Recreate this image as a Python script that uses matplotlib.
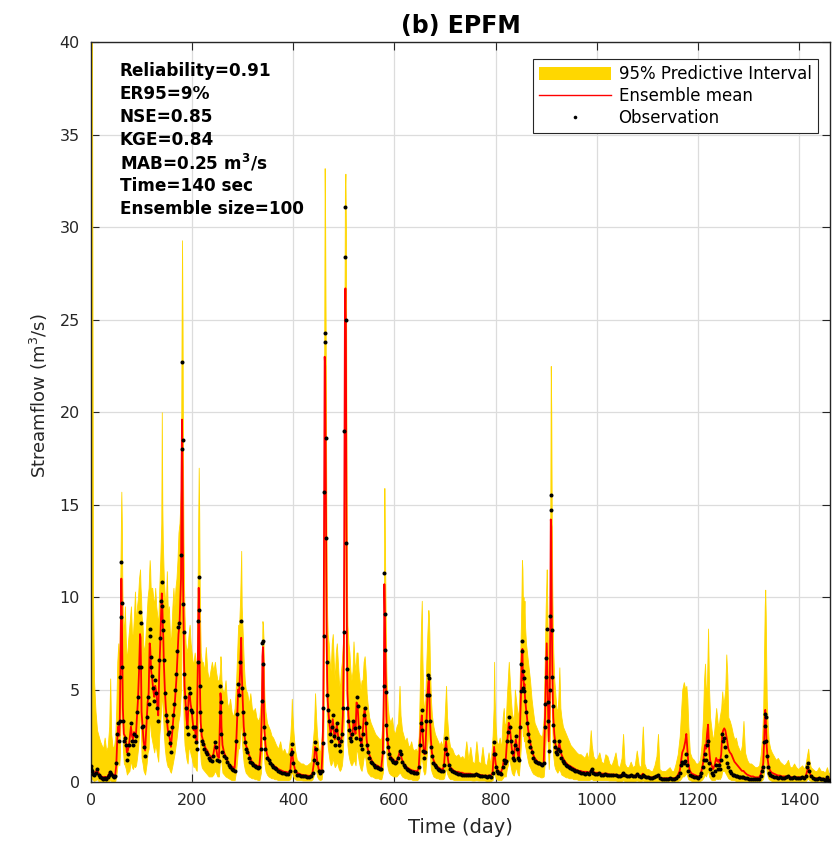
import matplotlib.pyplot as plt
from matplotlib.patches import Patch
from matplotlib.lines import Line2D

# daily streamflow series (m3/s), sampled on the days listed in `day`
day = [
    0, 1, 2, 4, 6, 9, 12, 15, 18, 21,
    24, 27, 30, 33, 36, 38, 40, 43, 46, 48,
    50, 52, 54, 56, 57, 58, 59, 60, 61, 62,
    63, 65, 67, 69, 71, 73, 76, 79, 81, 83,
    85, 87, 89, 91, 93, 95, 97, 98, 99, 100,
    102, 104, 107, 110, 112, 114, 116, 117, 118, 119,
    121, 123, 125, 127, 129, 131, 133, 135, 137, 139,
    140, 141, 142, 143, 144, 146, 148, 150, 152, 154,
    156, 158, 161, 163, 165, 167, 169, 171, 173, 175,
    178, 179, 180, 181, 182, 183, 184, 185, 187, 189,
    191, 193, 195, 197, 199, 201, 203, 205, 207, 209,
    211, 212, 213, 214, 215, 216, 217, 219, 221, 224,
    227, 230, 233, 236, 239, 242, 245, 247, 250, 253,
    255, 256, 257, 258, 260, 263, 266, 269, 272, 275,
    278, 281, 284, 287, 289, 291, 293, 295, 297, 298,
    300, 302, 304, 306, 309, 312, 315, 318, 321, 324,
    327, 330, 333, 336, 338, 339, 340, 341, 342, 343,
    345, 348, 351, 354, 357, 360, 363, 366, 370, 374,
    378, 382, 386, 390, 394, 396, 397, 398, 400, 403,
    407, 411, 415, 419, 423, 427, 431, 435, 438, 441,
    443, 445, 447, 450, 453, 456, 458, 459, 460, 461,
    462, 463, 464, 465, 466, 467, 468, 470, 472, 474,
    476, 478, 480, 482, 484, 486, 488, 490, 492, 494,
    496, 498, 500, 501, 502, 503, 504, 505, 506, 507,
    509, 511, 513, 515, 517, 519, 521, 523, 525, 527,
    529, 531, 533, 535, 537, 539, 541, 543, 545, 547,
    550, 553, 556, 559, 562, 565, 568, 571, 574, 577,
    579, 580, 581, 582, 583, 584, 585, 587, 589, 592,
    595, 598, 601, 604, 607, 610, 612, 615, 618, 621,
    624, 627, 630, 633, 636, 639, 642, 645, 648, 650,
    652, 654, 655, 657, 659, 661, 663, 665, 667, 668,
    669, 670, 672, 674, 677, 680, 683, 686, 689, 692,
    695, 698, 700, 702, 704, 707, 710, 714, 718, 722,
    726, 730, 734, 738, 742, 746, 750, 754, 758, 762,
    766, 770, 774, 778, 782, 786, 790, 794, 796, 797,
    798, 800, 802, 805, 808, 811, 814, 816, 818, 820,
    822, 824, 826, 828, 830, 832, 834, 836, 838, 840,
    842, 844, 846, 848, 850, 851, 852, 853, 854, 855,
    856, 857, 858, 860, 862, 864, 866, 868, 871, 874,
    877, 880, 883, 886, 889, 892, 895, 897, 898, 899,
    900, 901, 903, 904, 905, 907, 908, 909, 910, 911,
    912, 913, 914, 916, 918, 920, 922, 924, 926, 928,
    930, 933, 936, 939, 942, 945, 948, 951, 954, 957,
    960, 964, 968, 972, 976, 980, 984, 988, 990, 993,
    997, 1001, 1005, 1009, 1013, 1017, 1021, 1025, 1029, 1033,
    1037, 1041, 1045, 1049, 1052, 1055, 1059, 1063, 1067, 1071,
    1075, 1079, 1083, 1087, 1091, 1094, 1098, 1102, 1106, 1110,
    1114, 1118, 1121, 1124, 1128, 1132, 1136, 1140, 1144, 1148,
    1152, 1156, 1160, 1164, 1167, 1169, 1172, 1175, 1177, 1179,
    1181, 1184, 1188, 1192, 1196, 1200, 1204, 1207, 1210, 1212,
    1214, 1216, 1218, 1220, 1222, 1224, 1227, 1230, 1233, 1236,
    1239, 1241, 1243, 1246, 1248, 1250, 1252, 1254, 1256, 1258,
    1260, 1263, 1266, 1269, 1272, 1275, 1278, 1281, 1284, 1287,
    1290, 1293, 1297, 1301, 1305, 1309, 1313, 1317, 1321, 1324,
    1327, 1329, 1331, 1332, 1333, 1334, 1335, 1336, 1338, 1340,
    1343, 1346, 1350, 1354, 1358, 1362, 1366, 1370, 1374, 1378,
    1382, 1386, 1390, 1394, 1398, 1402, 1406, 1410, 1413, 1416,
    1418, 1420, 1423, 1427, 1431, 1435, 1439, 1443, 1447, 1451,
    1455, 1458, 1461,
]

obs = [
    0.85, 0.7, 0.6, 0.45, 0.35, 0.5, 0.7, 0.4, 0.25, 0.2,
    0.15, 0.2, 0.15, 0.25, 0.4, 0.55, 0.45, 0.3, 0.25, 0.3,
    1.0, 2.6, 3.2, 2.2, 3.3, 5.7, 8.9, 11.9, 9.7, 6.2,
    3.3, 2.2, 2.4, 2.0, 1.2, 1.5, 2.0, 3.2, 2.2, 2.0,
    2.6, 2.2, 2.5, 3.8, 4.6, 6.2, 9.2, 8.6, 6.2, 3.0,
    3.05, 1.9, 1.4, 3.5, 4.6, 4.2, 8.3, 7.9, 6.75, 6.2,
    5.75, 5.1, 4.4, 5.5, 4.8, 4.0, 3.3, 6.6, 7.8, 9.8,
    10.8, 9.5, 8.7, 8.2, 6.6, 4.8, 3.6, 3.3, 2.6, 2.7,
    2.1, 1.6, 3.0, 3.6, 4.2, 5.0, 5.85, 7.1, 8.4, 8.6,
    12.3, 18.0, 22.7, 18.5, 9.6, 8.1, 5.85, 4.6, 4.0, 3.0,
    2.6, 5.1, 4.8, 3.9, 3.8, 3.0, 2.5, 3.0, 2.15, 1.8,
    6.5, 8.7, 11.1, 9.3, 5.2, 3.8, 2.8, 2.2, 2.05, 1.8,
    1.6, 1.5, 1.3, 1.2, 1.15, 1.4, 2.15, 1.9, 1.2, 1.15,
    3.8, 5.2, 4.3, 2.6, 1.6, 1.4, 1.3, 1.1, 0.9, 0.8,
    0.7, 0.65, 0.6, 2.2, 3.7, 5.3, 4.7, 6.5, 8.7, 5.1,
    3.8, 2.6, 2.15, 1.8, 1.6, 1.3, 1.1, 1.0, 0.9, 0.85,
    0.8, 0.75, 0.8, 1.8, 4.4, 7.5, 7.65, 6.4, 3.0, 2.4,
    1.8, 1.3, 1.2, 1.0, 0.9, 0.8, 0.75, 0.7, 0.6, 0.55,
    0.5, 0.5, 0.45, 0.45, 0.6, 1.5, 2.05, 1.6, 1.0, 0.6,
    0.4, 0.35, 0.3, 0.3, 0.3, 0.28, 0.28, 0.3, 0.5, 1.2,
    2.15, 1.8, 1.0, 0.6, 0.5, 0.6, 2.1, 4.0, 7.9, 15.7,
    24.3, 23.8, 18.6, 13.2, 6.5, 4.7, 3.9, 3.3, 2.6, 2.2,
    3.0, 3.6, 2.5, 2.0, 2.8, 3.2, 2.4, 2.0, 1.7, 2.2,
    2.6, 4.0, 8.1, 19.0, 28.4, 31.1, 25.0, 12.9, 6.1, 4.0,
    3.3, 2.8, 2.4, 2.2, 2.6, 3.3, 2.9, 2.4, 4.6, 4.1,
    3.0, 2.3, 2.0, 1.8, 2.6, 3.6, 4.0, 3.2, 2.0, 1.6,
    1.3, 1.1, 1.0, 0.9, 0.8, 0.8, 0.75, 0.7, 0.7, 1.6,
    5.2, 11.3, 9.1, 7.15, 4.85, 3.1, 2.3, 1.9, 1.5, 1.3,
    1.2, 1.1, 1.0, 1.1, 1.3, 1.7, 1.5, 1.1, 0.9, 0.8,
    0.7, 0.65, 0.6, 0.55, 0.55, 0.5, 0.5, 0.5, 0.8, 2.0,
    3.2, 3.9, 2.8, 1.7, 1.3, 1.6, 3.3, 4.7, 5.8, 5.6,
    4.7, 3.3, 1.9, 1.4, 1.0, 0.9, 0.8, 0.7, 0.65, 0.6,
    0.6, 0.9, 1.8, 2.4, 1.5, 0.9, 0.7, 0.6, 0.55, 0.5,
    0.45, 0.45, 0.4, 0.4, 0.4, 0.35, 0.4, 0.35, 0.35, 0.45,
    0.35, 0.3, 0.3, 0.3, 0.28, 0.3, 0.28, 0.5, 1.5, 2.15,
    1.5, 0.8, 0.6, 0.5, 0.5, 0.45, 0.8, 1.2, 1.0, 1.15,
    2.2, 2.7, 3.5, 3.0, 2.2, 1.6, 1.3, 1.2, 2.0, 2.5,
    1.8, 1.3, 1.2, 3.0, 4.9, 6.4, 7.65, 7.1, 5.1, 6.0,
    4.9, 5.6, 4.4, 3.8, 3.2, 2.6, 2.2, 1.9, 1.6, 1.3,
    1.15, 1.1, 1.0, 1.0, 0.95, 0.9, 1.0, 3.0, 4.2, 5.7,
    6.7, 8.3, 4.3, 3.3, 1.7, 5.0, 9.0, 15.5, 14.7, 8.2,
    5.7, 4.1, 3.1, 2.2, 1.9, 1.6, 1.5, 1.8, 2.2, 1.7,
    1.3, 1.15, 1.0, 0.9, 0.85, 0.8, 0.75, 0.7, 0.65, 0.6,
    0.6, 0.55, 0.5, 0.5, 0.45, 0.5, 0.45, 0.6, 0.7, 0.5,
    0.45, 0.45, 0.5, 0.4, 0.4, 0.45, 0.4, 0.35, 0.35, 0.4,
    0.35, 0.3, 0.3, 0.35, 0.5, 0.35, 0.3, 0.3, 0.35, 0.3,
    0.3, 0.45, 0.3, 0.28, 0.4, 0.3, 0.25, 0.25, 0.2, 0.2,
    0.25, 0.3, 0.35, 0.2, 0.15, 0.15, 0.15, 0.15, 0.2, 0.15,
    0.15, 0.2, 0.3, 0.5, 0.9, 1.1, 1.0, 1.15, 1.5, 0.9,
    0.6, 0.4, 0.3, 0.25, 0.25, 0.2, 0.3, 0.5, 0.8, 1.2,
    1.5, 1.2, 2.0, 2.2, 1.0, 0.7, 0.5, 0.4, 0.6, 0.9,
    0.7, 0.9, 0.7, 1.2, 2.6, 2.2, 2.4, 1.9, 1.4, 1.0,
    0.8, 0.6, 0.5, 0.4, 0.35, 0.3, 0.3, 0.28, 0.25, 0.25,
    0.25, 0.2, 0.2, 0.18, 0.15, 0.15, 0.15, 0.15, 0.15, 0.3,
    0.6, 0.8, 2.15, 3.05, 3.7, 3.5, 2.2, 1.4, 0.8, 0.5,
    0.35, 0.3, 0.25, 0.25, 0.2, 0.25, 0.2, 0.2, 0.25, 0.3,
    0.2, 0.2, 0.25, 0.2, 0.2, 0.2, 0.25, 0.2, 0.3, 0.8,
    1.05, 0.6, 0.3, 0.2, 0.15, 0.15, 0.2, 0.15, 0.15, 0.12,
    0.25, 0.12, 0.1,
]

ens_mean = [
    0.7, 0.75, 0.7, 0.55, 0.45, 0.55, 0.65, 0.5, 0.35, 0.3,
    0.25, 0.28, 0.25, 0.3, 0.45, 0.55, 0.5, 0.4, 0.35, 0.4,
    0.9, 2.3, 3.0, 2.5, 3.5, 5.5, 8.5, 11.0, 9.3, 6.8,
    4.0, 2.6, 2.5, 2.2, 1.6, 1.7, 2.2, 3.0, 2.5, 2.3,
    2.7, 2.5, 2.6, 3.6, 4.5, 6.0, 8.0, 7.8, 6.0, 3.8,
    3.0, 2.2, 1.7, 3.2, 4.3, 4.8, 7.5, 7.3, 6.6, 6.0,
    5.6, 5.0, 4.6, 5.2, 4.9, 4.2, 3.6, 6.0, 7.5, 9.5,
    10.2, 9.6, 8.5, 7.8, 6.5, 5.0, 4.0, 3.4, 2.8, 2.6,
    2.3, 1.9, 2.8, 3.5, 4.0, 4.8, 5.6, 6.8, 8.0, 8.5,
    11.0, 16.5, 19.6, 17.0, 11.0, 8.5, 6.5, 5.2, 4.3, 3.4,
    2.9, 4.6, 4.8, 4.2, 3.9, 3.3, 2.8, 3.0, 2.5, 2.2,
    6.0, 8.5, 10.5, 9.2, 6.0, 4.3, 3.2, 2.5, 2.3, 2.0,
    1.8, 1.7, 1.5, 1.4, 1.3, 1.5, 2.0, 1.9, 1.4, 1.3,
    3.4, 4.8, 4.5, 3.0, 2.0, 1.6, 1.4, 1.2, 1.0, 0.9,
    0.85, 0.8, 0.75, 2.0, 3.4, 5.0, 4.8, 6.2, 7.8, 6.0,
    4.4, 3.0, 2.4, 2.0, 1.8, 1.5, 1.3, 1.1, 1.0, 0.95,
    0.9, 0.85, 0.9, 1.9, 4.0, 6.8, 7.3, 6.5, 3.8, 2.8,
    2.0, 1.5, 1.3, 1.1, 1.0, 0.9, 0.85, 0.8, 0.7, 0.65,
    0.6, 0.55, 0.55, 0.5, 0.6, 1.4, 1.8, 1.6, 1.1, 0.7,
    0.5, 0.45, 0.4, 0.38, 0.35, 0.35, 0.33, 0.35, 0.5, 1.1,
    1.9, 1.8, 1.2, 0.7, 0.6, 0.65, 1.9, 3.5, 7.5, 14.5,
    23.0, 22.5, 18.0, 12.5, 7.5, 5.5, 4.4, 3.6, 3.0, 2.6,
    2.9, 3.4, 2.8, 2.3, 2.7, 3.1, 2.6, 2.2, 1.9, 2.2,
    2.5, 3.6, 7.5, 17.0, 25.0, 26.7, 24.5, 14.0, 7.5, 4.8,
    3.6, 3.0, 2.6, 2.4, 2.6, 3.2, 3.0, 2.6, 4.3, 4.2,
    3.2, 2.5, 2.2, 2.0, 2.6, 3.4, 4.0, 3.4, 2.3, 1.8,
    1.5, 1.3, 1.1, 1.0, 0.9, 0.9, 0.85, 0.8, 0.8, 1.6,
    5.0, 10.7, 9.0, 7.2, 5.2, 3.6, 2.7, 2.1, 1.7, 1.4,
    1.3, 1.2, 1.1, 1.15, 1.3, 1.6, 1.5, 1.2, 1.0, 0.9,
    0.8, 0.75, 0.7, 0.65, 0.62, 0.6, 0.6, 0.55, 0.8, 1.8,
    3.0, 3.6, 3.0, 2.0, 1.5, 1.6, 3.0, 4.5, 5.4, 5.5,
    4.8, 3.6, 2.3, 1.6, 1.2, 1.0, 0.9, 0.8, 0.75, 0.7,
    0.65, 0.9, 1.7, 2.2, 1.6, 1.0, 0.8, 0.7, 0.6, 0.55,
    0.55, 0.5, 0.5, 0.45, 0.45, 0.45, 0.45, 0.4, 0.4, 0.45,
    0.4, 0.38, 0.35, 0.35, 0.33, 0.35, 0.32, 0.5, 1.4, 1.9,
    1.6, 1.0, 0.75, 0.6, 0.55, 0.55, 0.8, 1.2, 1.1, 1.2,
    2.0, 2.5, 3.2, 3.0, 2.4, 1.8, 1.5, 1.3, 1.9, 2.3,
    1.9, 1.5, 1.3, 2.8, 4.6, 6.0, 7.0, 7.2, 5.5, 5.8,
    5.0, 5.3, 4.6, 4.0, 3.5, 2.9, 2.5, 2.2, 1.8, 1.5,
    1.3, 1.2, 1.1, 1.05, 1.0, 0.95, 1.0, 2.7, 3.9, 5.2,
    6.4, 7.5, 4.8, 3.6, 2.2, 4.6, 8.5, 14.2, 13.8, 9.0,
    6.3, 4.6, 3.5, 2.6, 2.1, 1.8, 1.6, 1.8, 2.1, 1.8,
    1.5, 1.3, 1.15, 1.05, 0.95, 0.9, 0.85, 0.8, 0.75, 0.7,
    0.65, 0.6, 0.6, 0.55, 0.55, 0.55, 0.5, 0.6, 0.7, 0.55,
    0.5, 0.5, 0.5, 0.45, 0.45, 0.45, 0.45, 0.4, 0.4, 0.4,
    0.4, 0.35, 0.35, 0.38, 0.5, 0.4, 0.35, 0.33, 0.35, 0.32,
    0.32, 0.42, 0.32, 0.3, 0.45, 0.35, 0.28, 0.28, 0.25, 0.25,
    0.28, 0.32, 0.35, 0.25, 0.2, 0.2, 0.2, 0.2, 0.22, 0.2,
    0.2, 0.22, 0.35, 0.6, 1.2, 1.6, 1.8, 2.2, 2.6, 1.8,
    1.0, 0.6, 0.45, 0.4, 0.35, 0.3, 0.35, 0.6, 1.0, 1.5,
    2.0, 1.8, 2.6, 3.1, 1.8, 1.2, 0.9, 0.7, 0.9, 1.3,
    1.1, 1.2, 1.0, 1.5, 2.6, 2.8, 2.9, 2.8, 2.5, 2.2,
    1.8, 1.6, 1.5, 1.3, 1.1, 1.0, 0.9, 0.8, 0.7, 0.6,
    0.6, 0.5, 0.4, 0.35, 0.3, 0.3, 0.25, 0.25, 0.25, 0.4,
    0.7, 1.0, 2.3, 3.3, 3.9, 3.6, 2.6, 1.9, 1.2, 0.8,
    0.6, 0.5, 0.45, 0.4, 0.35, 0.35, 0.3, 0.3, 0.3, 0.32,
    0.28, 0.25, 0.28, 0.25, 0.25, 0.25, 0.25, 0.22, 0.3, 0.6,
    0.8, 0.55, 0.35, 0.25, 0.2, 0.2, 0.2, 0.18, 0.18, 0.15,
    0.2, 0.15, 0.15,
]

lower = [
    0.2, 0.2, 0.15, 0.1, 0.05, 0.1, 0.15, 0.05, 0, 0,
    0, 0, 0, 0, 0.05, 0.1, 0.05, 0, 0, 0.05,
    0.3, 0.8, 1.2, 0.9, 1.4, 2.5, 4.0, 6.0, 4.8, 3.2,
    1.8, 1.0, 0.9, 0.7, 0.4, 0.5, 0.6, 1.2, 0.8, 0.7,
    0.9, 0.8, 0.9, 1.3, 1.8, 2.6, 3.8, 3.5, 2.5, 1.3,
    1.0, 0.6, 0.4, 1.0, 1.6, 1.8, 3.5, 3.3, 2.8, 2.5,
    2.2, 1.9, 1.6, 2.0, 1.8, 1.4, 1.1, 2.5, 3.2, 4.2,
    4.8, 4.4, 3.8, 3.3, 2.6, 1.8, 1.3, 1.0, 0.8, 0.8,
    0.6, 0.5, 0.9, 1.2, 1.5, 1.9, 2.3, 2.8, 3.3, 3.6,
    5.0, 8.0, 10.0, 8.5, 5.0, 3.6, 2.6, 2.0, 1.6, 1.2,
    1.0, 1.8, 1.8, 1.5, 1.3, 1.0, 0.8, 0.9, 0.7, 0.6,
    2.5, 3.8, 5.0, 4.2, 2.4, 1.6, 1.1, 0.8, 0.7, 0.6,
    0.5, 0.4, 0.3, 0.3, 0.3, 0.4, 0.6, 0.5, 0.3, 0.3,
    1.2, 1.9, 1.7, 1.0, 0.5, 0.4, 0.3, 0.25, 0.2, 0.15,
    0.1, 0.1, 0.1, 0.6, 1.2, 1.9, 1.8, 2.6, 3.5, 2.3,
    1.6, 1.0, 0.7, 0.5, 0.4, 0.3, 0.25, 0.2, 0.2, 0.15,
    0.15, 0.1, 0.1, 0.5, 1.6, 3.2, 3.5, 3.0, 1.5, 1.0,
    0.6, 0.4, 0.3, 0.25, 0.2, 0.2, 0.15, 0.15, 0.1, 0.1,
    0.1, 0.1, 0.1, 0.1, 0.15, 0.4, 0.6, 0.5, 0.3, 0.15,
    0.1, 0.1, 0.1, 0.08, 0.08, 0.08, 0.08, 0.08, 0.15, 0.4,
    0.7, 0.6, 0.3, 0.15, 0.1, 0.15, 0.7, 1.5, 3.5, 8.0,
    14.0, 13.5, 10.0, 6.5, 3.5, 2.5, 1.9, 1.5, 1.1, 0.9,
    1.0, 1.3, 1.0, 0.8, 0.9, 1.1, 0.9, 0.7, 0.6, 0.7,
    0.9, 1.5, 3.5, 9.0, 14.0, 16.0, 13.0, 7.0, 3.5, 2.0,
    1.5, 1.2, 1.0, 0.9, 1.0, 1.2, 1.1, 0.9, 1.8, 1.6,
    1.2, 0.9, 0.7, 0.6, 0.9, 1.3, 1.5, 1.2, 0.7, 0.5,
    0.4, 0.3, 0.3, 0.25, 0.2, 0.2, 0.2, 0.15, 0.15, 0.5,
    2.2, 6.0, 4.8, 3.6, 2.4, 1.5, 1.0, 0.7, 0.5, 0.4,
    0.35, 0.3, 0.3, 0.3, 0.4, 0.5, 0.45, 0.3, 0.25, 0.2,
    0.2, 0.15, 0.15, 0.15, 0.1, 0.1, 0.1, 0.1, 0.2, 0.6,
    1.2, 1.5, 1.1, 0.6, 0.4, 0.5, 1.2, 1.9, 2.6, 2.5,
    2.1, 1.4, 0.7, 0.5, 0.3, 0.25, 0.2, 0.2, 0.15, 0.15,
    0.15, 0.2, 0.5, 0.8, 0.45, 0.25, 0.15, 0.15, 0.1, 0.1,
    0.1, 0.1, 0.1, 0.1, 0.1, 0.1, 0.1, 0.08, 0.08, 0.1,
    0.08, 0.08, 0.08, 0.08, 0.05, 0.05, 0.05, 0.1, 0.4, 0.7,
    0.5, 0.2, 0.15, 0.1, 0.1, 0.1, 0.2, 0.3, 0.3, 0.3,
    0.7, 0.9, 1.3, 1.1, 0.8, 0.5, 0.4, 0.35, 0.6, 0.8,
    0.6, 0.4, 0.35, 1.1, 2.0, 2.8, 3.5, 3.4, 2.5, 2.6,
    2.2, 2.4, 2.0, 1.7, 1.4, 1.1, 0.9, 0.8, 0.6, 0.45,
    0.4, 0.35, 0.3, 0.3, 0.25, 0.25, 0.3, 1.0, 1.6, 2.3,
    2.9, 3.6, 2.0, 1.4, 0.7, 2.0, 4.5, 8.5, 8.0, 4.5,
    3.0, 2.0, 1.4, 0.9, 0.7, 0.6, 0.5, 0.6, 0.7, 0.55,
    0.4, 0.35, 0.3, 0.25, 0.25, 0.2, 0.2, 0.2, 0.15, 0.15,
    0.15, 0.1, 0.1, 0.1, 0.1, 0.1, 0.1, 0.15, 0.15, 0.1,
    0.1, 0.1, 0.1, 0.1, 0.1, 0.1, 0.1, 0.08, 0.08, 0.08,
    0.08, 0.05, 0.05, 0.05, 0.1, 0.05, 0.05, 0.05, 0.05, 0.05,
    0.05, 0.08, 0.05, 0.05, 0.08, 0.05, 0.03, 0.03, 0.03, 0.03,
    0.03, 0.05, 0.05, 0.03, 0.02, 0.02, 0.02, 0.02, 0.02, 0.02,
    0.02, 0.02, 0.05, 0.1, 0.2, 0.3, 0.3, 0.4, 0.5, 0.3,
    0.15, 0.1, 0.05, 0.05, 0.05, 0.05, 0.05, 0.1, 0.2, 0.3,
    0.4, 0.3, 0.5, 0.6, 0.3, 0.2, 0.1, 0.1, 0.1, 0.2,
    0.15, 0.2, 0.15, 0.3, 0.6, 0.6, 0.6, 0.5, 0.4, 0.3,
    0.2, 0.15, 0.1, 0.1, 0.1, 0.05, 0.05, 0.05, 0.05, 0.05,
    0.05, 0.05, 0.03, 0.03, 0.03, 0.02, 0.02, 0.02, 0.02, 0.05,
    0.1, 0.2, 0.6, 1.0, 1.3, 1.2, 0.8, 0.5, 0.3, 0.15,
    0.1, 0.05, 0.05, 0.05, 0.05, 0.05, 0.03, 0.03, 0.03, 0.03,
    0.03, 0.03, 0.03, 0.03, 0.03, 0.03, 0.03, 0.03, 0.05, 0.15,
    0.2, 0.1, 0.05, 0.03, 0.02, 0.02, 0.02, 0.02, 0.02, 0.02,
    0.02, 0.02, 0.02,
]

upper = [
    40.5, 40.5, 40.5, 10.0, 5.5, 3.8, 2.8, 2.5, 2.2, 2.0,
    1.8, 2.4, 1.7, 1.9, 3.0, 5.6, 2.6, 1.8, 2.0, 2.5,
    4.0, 6.5, 7.5, 6.0, 8.5, 11.0, 13.5, 15.7, 14.0, 10.5,
    9.0, 8.0, 9.5, 7.5, 6.5, 7.5, 8.5, 9.5, 8.0, 8.0,
    9.0, 10.3, 8.5, 9.5, 10.0, 11.0, 11.5, 10.5, 10.0, 9.0,
    8.5, 7.0, 7.5, 9.0, 10.0, 10.5, 12.0, 11.5, 10.5, 10.5,
    10.5, 10.0, 9.5, 10.5, 9.5, 9.0, 8.5, 10.5, 12.0, 14.0,
    20.0, 15.0, 13.0, 12.0, 11.0, 10.0, 9.5, 11.4, 9.0, 9.5,
    8.0, 7.5, 9.5, 10.5, 9.5, 10.5, 11.0, 12.0, 13.5, 14.0,
    16.0, 24.0, 29.3, 25.0, 17.0, 13.0, 10.5, 9.0, 7.5, 7.0,
    7.3, 8.0, 8.5, 7.5, 7.0, 6.5, 6.5, 7.0, 6.5, 6.0,
    11.0, 14.0, 17.0, 14.5, 10.5, 8.5, 7.0, 6.5, 6.5, 6.0,
    7.3, 6.0, 5.5, 6.0, 6.5, 6.0, 6.5, 6.0, 5.5, 5.5,
    6.0, 6.8, 6.4, 5.5, 5.0, 4.8, 5.5, 4.3, 4.0, 4.5,
    3.8, 3.5, 4.0, 5.5, 7.0, 8.5, 8.5, 10.0, 12.5, 9.5,
    8.0, 6.5, 5.5, 5.0, 4.8, 4.2, 4.8, 4.0, 3.8, 4.0,
    3.5, 3.3, 3.5, 4.5, 6.5, 8.7, 8.5, 7.8, 5.5, 4.5,
    3.8, 3.2, 3.0, 2.8, 2.5, 2.4, 2.2, 2.0, 1.8, 2.2,
    1.6, 1.8, 1.5, 1.6, 2.5, 3.5, 4.5, 3.8, 2.8, 1.8,
    1.2, 1.1, 1.0, 1.0, 0.9, 0.9, 1.0, 1.1, 2.0, 3.0,
    4.8, 3.5, 2.5, 1.8, 1.6, 2.5, 3.5, 6.5, 12.0, 22.0,
    33.2, 30.0, 24.0, 17.0, 11.0, 9.0, 8.0, 7.5, 6.5, 6.0,
    7.5, 8.0, 6.5, 5.5, 7.0, 7.5, 6.5, 5.5, 5.0, 6.0,
    6.5, 7.5, 12.0, 24.0, 32.0, 32.9, 30.0, 19.0, 11.0, 8.5,
    7.5, 7.0, 6.0, 5.5, 6.0, 7.6, 6.5, 6.0, 7.0, 7.0,
    6.0, 5.5, 5.0, 5.5, 5.5, 6.5, 6.8, 6.0, 4.8, 4.2,
    3.5, 3.2, 3.0, 2.8, 2.6, 2.5, 2.4, 2.3, 2.4, 3.5,
    8.0, 15.9, 13.0, 10.5, 8.0, 6.0, 5.0, 4.0, 3.5, 3.2,
    3.5, 2.8, 2.6, 3.0, 3.2, 5.2, 3.6, 2.8, 2.5, 2.2,
    2.4, 2.0, 1.9, 2.2, 1.8, 1.7, 1.8, 1.6, 2.5, 5.0,
    8.0, 9.8, 7.0, 4.5, 3.8, 4.5, 6.5, 8.0, 9.3, 9.0,
    8.0, 6.5, 4.5, 3.6, 3.0, 2.6, 2.4, 2.2, 2.0, 2.2,
    1.9, 2.8, 4.0, 5.2, 3.5, 2.4, 1.9, 1.8, 1.5, 1.4,
    1.5, 1.3, 1.4, 1.2, 2.2, 1.2, 1.9, 1.1, 1.0, 2.2,
    1.1, 1.0, 1.9, 1.0, 0.9, 1.6, 0.9, 2.5, 4.0, 6.5,
    4.5, 3.0, 2.2, 2.0, 2.4, 1.8, 3.5, 4.0, 3.0, 3.2,
    4.5, 5.5, 6.5, 5.5, 4.5, 3.8, 3.5, 3.2, 5.0, 4.5,
    4.0, 3.5, 4.0, 6.0, 8.5, 10.0, 12.0, 11.5, 9.5, 10.0,
    9.0, 9.8, 8.5, 7.5, 7.0, 6.5, 6.0, 5.5, 4.5, 3.8,
    3.2, 3.0, 2.8, 2.6, 2.5, 2.5, 3.5, 6.5, 8.0, 9.5,
    10.5, 11.5, 8.0, 6.5, 5.0, 9.0, 14.0, 22.5, 20.0, 14.0,
    10.5, 8.5, 7.0, 5.5, 4.8, 4.0, 3.8, 4.5, 6.2, 4.0,
    3.5, 3.0, 2.8, 2.6, 2.4, 2.2, 2.0, 1.9, 1.8, 1.7,
    1.6, 1.5, 1.5, 1.4, 1.3, 1.6, 1.2, 2.8, 2.0, 1.4,
    1.2, 1.3, 1.6, 1.1, 1.0, 1.5, 1.4, 1.0, 0.9, 1.2,
    1.6, 0.9, 0.8, 1.3, 2.6, 1.0, 0.8, 0.8, 1.1, 0.8,
    0.9, 1.7, 0.9, 0.8, 3.0, 1.0, 0.7, 0.7, 0.6, 0.6,
    0.9, 1.4, 2.6, 0.7, 0.6, 0.6, 0.6, 0.7, 0.8, 0.6,
    0.6, 1.0, 1.5, 2.5, 4.0, 5.0, 5.4, 5.0, 5.2, 4.5,
    3.0, 1.6, 1.3, 1.2, 1.0, 1.0, 1.2, 2.0, 3.5, 5.5,
    6.4, 4.5, 5.5, 8.3, 5.0, 3.5, 2.8, 2.2, 3.0, 4.0,
    3.2, 3.0, 3.5, 4.0, 4.9, 4.2, 4.5, 5.0, 6.9, 5.8,
    3.5, 3.3, 3.0, 2.6, 2.3, 2.4, 2.0, 1.8, 1.6, 2.0,
    3.3, 1.6, 1.2, 1.0, 1.0, 0.9, 0.8, 0.8, 0.9, 1.5,
    2.5, 4.0, 7.5, 9.5, 10.4, 9.0, 6.5, 4.5, 3.0, 2.2,
    1.8, 1.6, 1.4, 1.2, 1.3, 1.1, 1.0, 0.9, 1.0, 1.2,
    0.8, 0.8, 1.0, 0.8, 0.7, 0.8, 0.9, 0.7, 1.0, 1.5,
    1.8, 1.2, 0.8, 0.7, 0.6, 0.6, 0.8, 0.6, 0.6, 0.5,
    0.8, 0.5, 0.5,
]

stats = [
    'Reliability=0.91',
    'ER95=9%',
    'NSE=0.85',
    'KGE=0.84',
    r'MAB=0.25 m$^\mathbf{3}$/s',
    'Time=140 sec',
    'Ensemble size=100',
]

band_color = '#FFD700'
axis_gray = '#262626'

fig = plt.figure(figsize=(8.37, 8.44), dpi=100)
ax = fig.add_axes([0.1087, 0.0735, 0.8829, 0.8762])

ax.fill_between(day, lower, upper, color=band_color, linewidth=0.6,
                edgecolor=band_color, zorder=2)
ax.plot(day, ens_mean, color='red', linewidth=1.3, zorder=3)
ax.plot(day, obs, linestyle='none', marker='o', markersize=2.9,
        markerfacecolor='black', markeredgewidth=0, zorder=4)

ax.set_xlim(0, 1461)
ax.set_ylim(0, 40)
ax.set_xticks(range(0, 1401, 200))
ax.set_yticks(range(0, 41, 5))

ax.grid(True, color='#DCDCDC', linewidth=0.9, zorder=0)
ax.set_axisbelow(True)
ax.tick_params(direction='in', top=True, right=True, length=5.5, width=0.8,
               labelsize=11.5, colors=axis_gray, pad=8)
for sp in ax.spines.values():
    sp.set_color(axis_gray)
    sp.set_linewidth(1.0)

ax.set_xlabel('Time (day)', fontsize=14, color=axis_gray, labelpad=7)
ax.set_ylabel('Streamflow (m$^3$/s)', fontsize=13, color=axis_gray)
ax.yaxis.set_label_coords(-0.056, 0.522)
ax.set_title('(b) EPFM', fontsize=17, fontweight='bold', pad=7)

# goodness-of-fit summary, one line per metric
for i, line in enumerate(stats):
    ax.text(0.039, 0.9615 - i * 0.0311, line, transform=ax.transAxes,
            fontsize=12.2, fontweight='bold', va='center', ha='left', zorder=5)

handles = [
    Patch(facecolor=band_color, edgecolor='none'),
    Line2D([], [], color='red', linewidth=1.0),
    Line2D([], [], linestyle='none', marker='o', markersize=2.6,
           markerfacecolor='black', markeredgewidth=0),
]
labels = ['95% Predictive Interval', 'Ensemble mean', 'Observation']
leg = ax.legend(handles, labels, loc='upper right', bbox_to_anchor=(0.984, 0.978),
                fontsize=12, frameon=True, fancybox=False, framealpha=1,
                edgecolor=axis_gray, handlelength=4.3, handleheight=0.8,
                handletextpad=0.45, labelspacing=0.22, borderpad=0.4,
                borderaxespad=0)
leg.get_frame().set_linewidth(0.8)

fig.savefig('out.png', dpi=100)
